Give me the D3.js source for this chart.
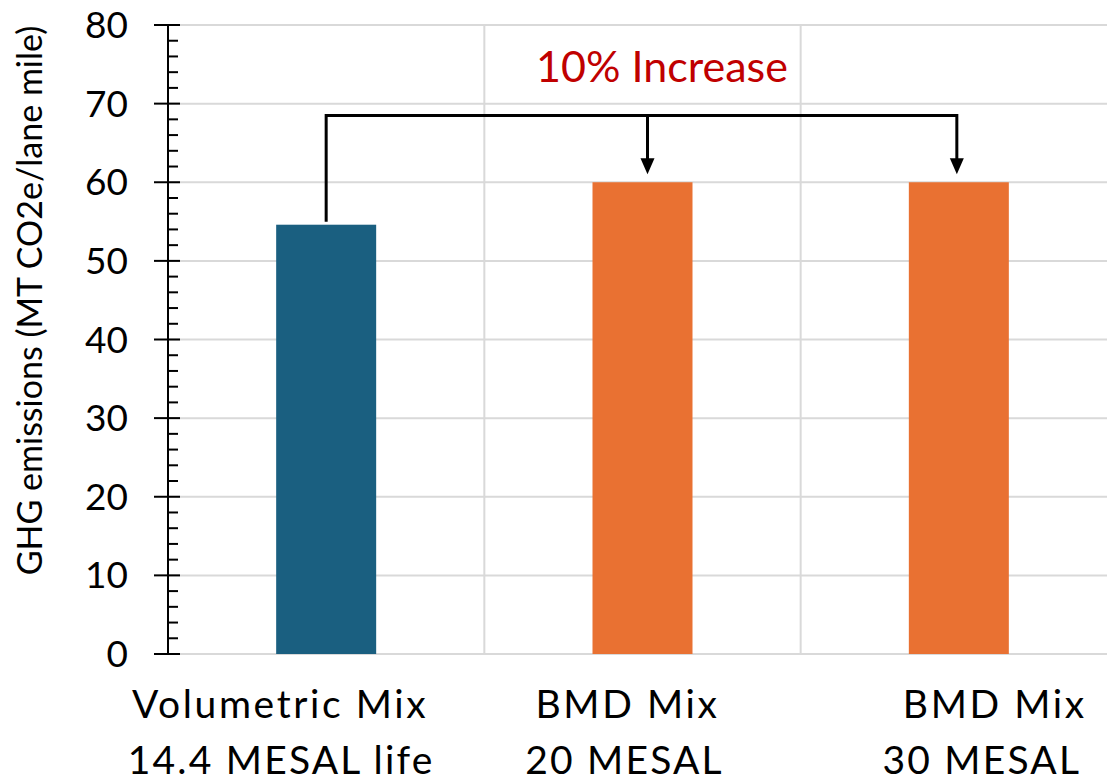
<!DOCTYPE html>
<html><head><meta charset="utf-8">
<script src="https://cdn.jsdelivr.net/npm/d3@7"></script>
<style>body{margin:0;background:#fff}svg{display:block}</style>
</head><body>
<svg id="c" width="1107" height="782"></svg>
<script>
const categories = ["Volumetric Mix\n14.4 MESAL life", "BMD Mix\n20 MESAL", "BMD Mix\n30 MESAL"];
const values = [54.6, 60, 60];
const barColors = ["#1a5f80", "#e97132", "#e97132"];
const yTicks = [0, 10, 20, 30, 40, 50, 60, 70, 80];
const yTitle = "GHG emissions (MT CO2e/lane mile)";
const annotation = "10% Increase";
const bracketLevel = 68.5;

(function () {
const font = "Lato, 'Open Sans', sans-serif";
const svg = d3.select("#c");
const mLeft = 168, mRight = 1117, mTop = 25, mBottom = 654;
const x = d3.scaleBand().domain(categories).range([mLeft, mRight]).paddingInner(0).paddingOuter(0);
const y = d3.scaleLinear().domain([0, 80]).range([mBottom, mTop]);
const barW = 100;

// gridlines
svg.append("g").selectAll("line").data(yTicks).join("line")
  .attr("x1", mLeft).attr("x2", mRight).attr("y1", d => y(d)).attr("y2", d => y(d))
  .attr("stroke", "#d9d9d9").attr("stroke-width", 2);
svg.append("g").selectAll("line").data(categories.slice(1)).join("line")
  .attr("x1", d => x(d)).attr("x2", d => x(d)).attr("y1", y(80)).attr("y2", y(0))
  .attr("stroke", "#d9d9d9").attr("stroke-width", 2);

// bars
svg.append("g").selectAll("rect").data(categories).join("rect")
  .attr("x", d => x(d) + x.bandwidth() / 2 - barW / 2)
  .attr("width", barW)
  .attr("y", (d, i) => y(values[i]))
  .attr("height", (d, i) => y(0) - y(values[i]))
  .attr("fill", (d, i) => barColors[i]);

// y axis
const ax = svg.append("g").attr("transform", `translate(${mLeft},0)`);
ax.append("line").attr("y1", y(80)).attr("y2", y(0)).attr("stroke", "#000").attr("stroke-width", 2);
const minor = d3.range(0, 80.01, 2).filter(v => v % 10 !== 0);
ax.append("g").selectAll("line").data(minor).join("line")
  .attr("x1", 0).attr("x2", 10).attr("y1", d => y(d)).attr("y2", d => y(d))
  .attr("stroke", "#000").attr("stroke-width", 2);
ax.append("g").selectAll("line").data(yTicks).join("line")
  .attr("x1", -14).attr("x2", 12).attr("y1", d => y(d)).attr("y2", d => y(d))
  .attr("stroke", "#000").attr("stroke-width", 2);
ax.append("g").selectAll("text").data(yTicks).join("text")
  .attr("x", -40).attr("y", d => y(d) + 13)
  .attr("text-anchor", "end").attr("font-family", font).attr("font-size", 37)
  .attr("fill", "#000").text(d => d);

svg.append("text").attr("transform", `translate(42,${(y(0) + y(80)) / 2 - 39}) rotate(-90)`)
  .attr("text-anchor", "middle").attr("font-family", font).attr("font-size", 34)
  .attr("fill", "#000").text(yTitle);

// x labels
const labelOffsets = [[-46, -45], [-15, -18], [36, 23]];
categories.forEach((c, i) => {
  c.split("\n").forEach((ln, j) => {
    svg.append("text").attr("x", x(c) + x.bandwidth() / 2 + labelOffsets[i][j])
      .attr("y", 718 + j * 56).attr("text-anchor", "middle")
      .attr("font-family", font).attr("font-size", 39).attr("letter-spacing", j === 0 ? 2.6 : 2.2)
      .attr("fill", "#000").text(ln);
  });
});

// bracket
const cx = categories.map(c => x(c) + x.bandwidth() / 2);
const ax1 = cx[1] + 5;
const by = y(bracketLevel);
const g = svg.append("g").attr("stroke", "#000").attr("stroke-width", 3).attr("fill", "none");
g.append("path").attr("d", `M${cx[0]},${y(values[0]) - 3} V${by} H${cx[2] - 2} V${y(values[2]) - 20}`);
g.append("path").attr("d", `M${ax1},${by} V${y(values[1]) - 20}`);
[[ax1, 1], [cx[2] - 2, 2]].forEach(([px, i]) => {
  const tip = y(values[i]) - 8;
  svg.append("path").attr("d", `M${px - 7},${tip - 16} L${px + 7},${tip - 16} L${px},${tip} Z`).attr("fill", "#000");
});

svg.append("text").attr("x", 662).attr("y", 82).attr("text-anchor", "middle")
  .attr("font-family", font).attr("font-size", 43).attr("fill", "#c00000").text(annotation);
})();
</script>
</body></html>
